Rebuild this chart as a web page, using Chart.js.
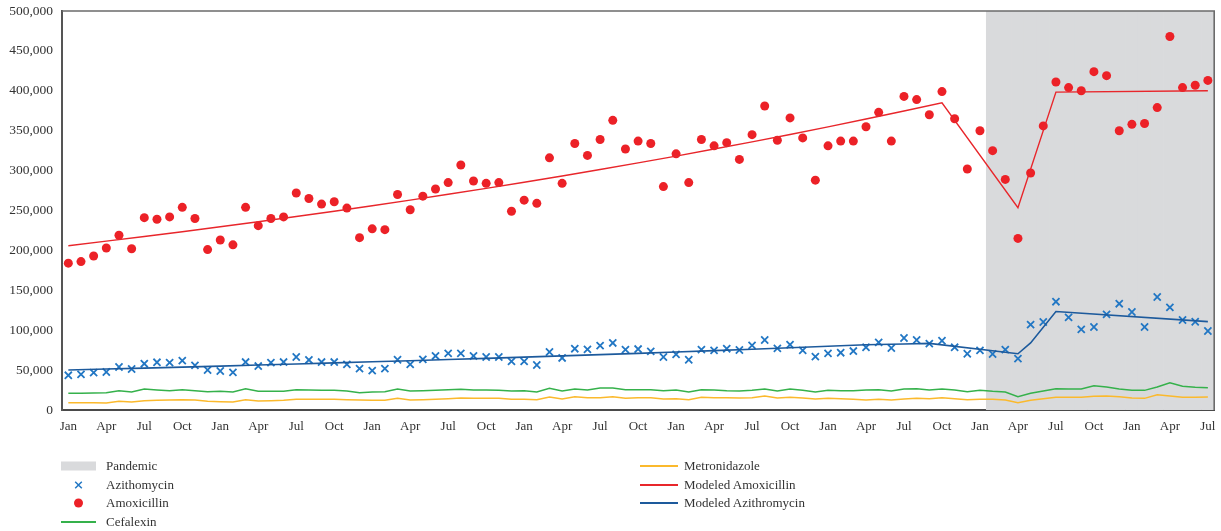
<!DOCTYPE html>
<html>
<head>
<meta charset="utf-8">
<title>Monthly antibiotic dispensing</title>
<script src="https://cdn.jsdelivr.net/npm/chart.js@4.4.1/dist/chart.umd.min.js"></script>
<style>
  html, body { margin: 0; padding: 0; background: #fff; }
  #wrap { position: relative; width: 1221px; height: 531px; overflow: hidden; }
  #chart { position: absolute; left: 0; top: 0; }
  #legend { position: absolute; left: 0; top: 0; width: 1221px; height: 531px; pointer-events: none;
            font-family: 'Liberation Serif', 'DejaVu Serif', serif; font-size: 13px; color: #333; }
  #legend .sw { position: absolute; }
  #legend .tx { position: absolute; line-height: 18px; white-space: nowrap; }
</style>
</head>
<body>
<div id="wrap">
  <canvas id="chart" width="1221" height="531"></canvas>
  <div id="legend"></div>
</div>
<script>
// ---- data -------------------------------------------------------------
const monthNames = ['Jan','Feb','Mar','Apr','May','Jun','Jul','Aug','Sep','Oct','Nov','Dec'];
const quarterLabels = ['Jan','Apr','Jul','Oct'];
const monthCount = 91;              // Jan .. Jul, seven and a half years
const months = [];
for (let i = 0; i < monthCount; i++) months.push(monthNames[i % 12]);

// months flagged as pandemic period
const pandemicMonths = [73,74,75,76,77,78,79,80,81,82,83,84,85,86,87,88,89,90];

const amoxicillin = [
  184000,186000,193000,203000,219000,202000,241000,239000,242000,254000,240000,201000,
  213000,207000,254000,231000,240000,242000,272000,265000,258000,261000,253000,216000,
  227000,226000,270000,251000,268000,277000,285000,307000,287000,284000,285000,249000,
  263000,259000,316000,284000,334000,319000,339000,363000,327000,337000,334000,280000,
  321000,285000,339000,331000,335000,314000,345000,381000,338000,366000,341000,288000,
  331000,337000,337000,355000,373000,337000,393000,389000,370000,399000,365000,302000,
  350000,325000,289000,215000,297000,356000,411000,404000,400000,424000,419000,350000,
  358000,359000,379000,468000,404000,407000,413000
];

const azithromycin = [
  43500,44700,46800,47600,53900,51400,58000,59800,59300,61800,56000,50100,
  48900,47200,60100,55100,59300,60100,66400,62700,60100,60100,57200,51800,
  49300,51800,63000,57200,63500,67700,71000,71000,67700,66400,66400,61000,
  61000,56400,72700,65200,76800,76000,80600,84000,75600,76400,73500,66400,
  69800,63000,75600,74800,76800,75200,81000,87700,77300,81800,74800,66800,
  71000,71800,73900,78600,84800,77700,90200,87700,83100,86800,78600,70500,
  74800,70200,75600,64300,106900,110300,135700,116100,101100,104000,119900,133200,
  122800,104000,141600,128700,112800,110600,99000
];

const cefalexin = [
  20900,20900,21300,21700,24200,22600,26300,25100,24200,25500,24200,23000,
  23400,22600,26700,23400,23400,23400,25500,25100,24600,24600,23800,21700,
  22600,23000,26300,23800,24200,24600,25300,25900,25100,25100,24600,23800,
  24200,22600,27200,23800,26300,25100,27600,27600,25500,25500,25500,24200,
  25100,22600,25500,25100,24200,23800,24600,26300,23800,26300,24600,22600,
  24600,24200,24200,25100,25500,23800,26300,26700,25100,26300,25100,23000,
  24600,23400,22600,16700,20900,23800,26700,26300,26300,30500,28800,26300,
  24600,24600,28800,34200,29700,28400,28000
];

const metronidazole = [
  9200,9200,9000,8800,10900,10000,11700,12100,12500,12900,12500,10900,
  10400,10000,12900,11300,11700,12100,13400,13400,13400,13400,12900,12500,
  12100,12100,14600,12500,12900,13400,14200,15000,14600,14600,14600,13400,
  13400,12900,16300,13800,16700,15500,15500,16700,14600,15500,15500,13800,
  14200,12900,15900,15500,15500,15000,15500,17500,15000,15900,15000,13800,
  14600,14200,13400,12500,13400,12500,13800,14600,14200,15500,14200,12900,
  13400,13400,12500,9200,12100,14200,15900,15900,15900,17100,17500,16700,
  15000,14600,19200,17500,15900,15900,16300
];

// modeled trends, given at their knot months
const modelAmoxMonths = [0,3,6,9,12,15,18,21,24,27,30,33,36,39,42,45,48,51,54,57,60,63,66,69,75,78,90];
const modelAmoxValues = [
  205900,211600,217400,223400,229600,235900,242400,249100,256000,263000,270300,277700,
  285400,293300,301400,309700,318200,327000,336000,345300,354800,364600,374700,385000,
  253600,398400,400000
];
const modelAzithMonths = [0,3,6,9,12,15,18,21,24,27,30,33,36,39,42,45,48,51,54,57,60,63,66,68,75,76,78,90];
const modelAzithValues = [
  50100,51300,52500,53700,55000,56300,57600,59000,60400,61800,63200,64700,
  66200,67800,69400,71000,72700,74400,76200,78000,79800,81700,82800,83500,
  70500,84000,123400,110700
];

// ---- helpers ----------------------------------------------------------
function atMonths(idx, vals) {
  const a = new Array(monthCount).fill(null);
  idx.forEach((m, k) => { a[m] = vals[k]; });
  return a;
}
const pandemicBars = atMonths(pandemicMonths, pandemicMonths.map(() => 500000));

const FONT = "'Liberation Serif', 'DejaVu Serif', serif";
const INK = '#333333';

// frame along the top and right of the plotting area
const framePlugin = {
  id: 'frame',
  afterDatasetsDraw(chart) {
    const { ctx, chartArea: a } = chart;
    ctx.save();
    ctx.strokeStyle = '#6b6b6b';
    ctx.lineWidth = 1.6;
    ctx.beginPath();
    ctx.moveTo(a.left, a.top);
    ctx.lineTo(a.right, a.top);
    ctx.lineTo(a.right, a.bottom);
    ctx.stroke();
    ctx.restore();
  }
};

const chart = new Chart(document.getElementById('chart'), {
  data: {
    labels: months,
    datasets: [
      { type: 'bar', label: 'Pandemic', data: pandemicBars, backgroundColor: '#d9dadc',
        borderWidth: 0, barPercentage: 1, categoryPercentage: 1, order: 10 },
      { type: 'line', label: 'Azithomycin', data: azithromycin, showLine: false,
        pointStyle: 'crossRot', pointRadius: 5, borderColor: '#2277c4', borderWidth: 1.8,
        backgroundColor: '#2277c4', order: 3 },
      { type: 'line', label: 'Amoxicillin', data: amoxicillin, showLine: false,
        pointStyle: 'circle', pointRadius: 4.5, borderWidth: 0, backgroundColor: '#ec2127',
        borderColor: '#ec2127', order: 3 },
      { type: 'line', label: 'Cefalexin', data: cefalexin, borderColor: '#35b14b',
        borderWidth: 1.5, pointRadius: 0, tension: 0, order: 4 },
      { type: 'line', label: 'Metronidazole', data: metronidazole, borderColor: '#fbb92c',
        borderWidth: 1.5, pointRadius: 0, tension: 0, order: 4 },
      { type: 'line', label: 'Modeled Amoxicillin', data: atMonths(modelAmoxMonths, modelAmoxValues),
        borderColor: '#e8262b', borderWidth: 1.4, pointRadius: 0, spanGaps: true, order: 1 },
      { type: 'line', label: 'Modeled Azithromycin', data: atMonths(modelAzithMonths, modelAzithValues),
        borderColor: '#1d5a9c', borderWidth: 1.6, pointRadius: 0, spanGaps: true, order: 1 }
    ]
  },
  options: {
    responsive: false,
    devicePixelRatio: 1,
    animation: false,
    layout: { padding: { top: 0, right: 5, bottom: 91, left: 0 } },
    plugins: { legend: { display: false }, tooltip: { enabled: false } },
    elements: { line: { tension: 0 } },
    scales: {
      x: {
        type: 'category',
        offset: true,
        grid: { display: false, drawTicks: false },
        border: { display: true, color: '#4a4a4a', width: 2 },
        ticks: {
          autoSkip: false, maxRotation: 0, padding: 9, color: INK,
          font: { family: FONT, size: 13 },
          callback: (v, i) => (i % 3 === 0 ? quarterLabels[(i / 3) % 4] : null)
        },
        afterFit: s => { s.height = 30; s.paddingLeft = 0; s.paddingRight = 0; }
      },
      y: {
        min: 0, max: 500000,
        grid: { display: false, drawTicks: false },
        border: { display: true, color: '#555555', width: 2 },
        ticks: {
          stepSize: 50000, padding: 9, color: INK,
          font: { family: FONT, size: 13.5 },
          callback: v => v.toLocaleString('en-US')
        },
        afterFit: s => { s.width = 62; s.paddingTop = 11; s.paddingBottom = 0; }
      }
    }
  },
  plugins: [framePlugin]
});

// ---- legend, two columns under the plot --------------------------------
(function buildLegend() {
  const host = document.getElementById('legend');
  const rows = [466, 484.5, 503, 521.5];
  const cols = [ { sw: 61, w: 35, tx: 106 }, { sw: 640, w: 38, tx: 684 } ];
  const NS = 'http://www.w3.org/2000/svg';
  chart.data.datasets.forEach((ds, k) => {
    const col = cols[k < 4 ? 0 : 1];
    const cy = rows[k < 4 ? k : k - 4];
    const svg = document.createElementNS(NS, 'svg');
    svg.setAttribute('width', col.w);
    svg.setAttribute('height', 18);
    svg.setAttribute('class', 'sw');
    svg.style.left = col.sw + 'px';
    svg.style.top = (cy - 9) + 'px';
    const mid = col.w / 2;
    let shape;
    if (ds.type === 'bar') {
      shape = document.createElementNS(NS, 'rect');
      shape.setAttribute('x', 0); shape.setAttribute('y', 4.5);
      shape.setAttribute('width', col.w); shape.setAttribute('height', 9);
      shape.setAttribute('fill', ds.backgroundColor);
    } else if (ds.showLine === false && ds.pointStyle === 'crossRot') {
      shape = document.createElementNS(NS, 'path');
      const r = 3.3;
      shape.setAttribute('d', `M${mid - r} ${9 - r} L${mid + r} ${9 + r} M${mid + r} ${9 - r} L${mid - r} ${9 + r}`);
      shape.setAttribute('stroke', ds.borderColor); shape.setAttribute('stroke-width', 1.5);
    } else if (ds.showLine === false) {
      shape = document.createElementNS(NS, 'circle');
      shape.setAttribute('cx', mid); shape.setAttribute('cy', 9); shape.setAttribute('r', 4.5);
      shape.setAttribute('fill', ds.backgroundColor);
    } else {
      shape = document.createElementNS(NS, 'line');
      shape.setAttribute('x1', 0); shape.setAttribute('x2', col.w);
      shape.setAttribute('y1', 9); shape.setAttribute('y2', 9);
      shape.setAttribute('stroke', ds.borderColor); shape.setAttribute('stroke-width', 1.8);
    }
    svg.appendChild(shape);
    host.appendChild(svg);
    const t = document.createElement('div');
    t.className = 'tx';
    t.textContent = ds.label;
    t.style.left = col.tx + 'px';
    t.style.top = (cy - 9) + 'px';
    host.appendChild(t);
  });
})();
</script>
</body>
</html>
